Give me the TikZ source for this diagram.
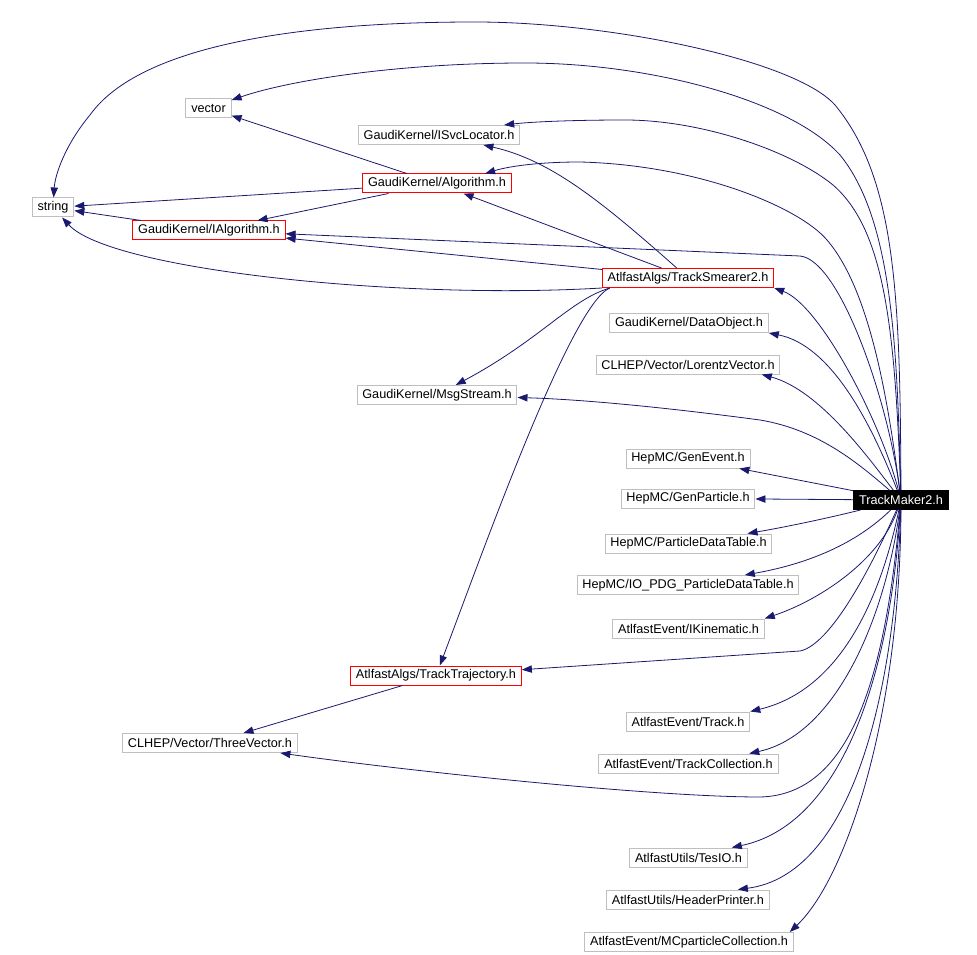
\documentclass[tikz,border=0pt]{standalone}
\usepackage{fontspec}
\setmainfont{Liberation Sans}
\usetikzlibrary{arrows.meta}
\definecolor{edgeblue}{RGB}{25,25,112}
\definecolor{boxgray}{RGB}{191,191,191}

\begin{document}
\begin{tikzpicture}[x=0.75pt, y=-0.75pt,
    font=\fontsize{9.5}{11}\selectfont,
    hdr/.style={draw=boxgray, line width=0.75pt, rectangle, minimum height=14.25pt, inner xsep=4pt, inner ysep=0pt},
    hdrred/.style={hdr, draw=red},
    root/.style={hdr, draw=black, fill=black, text=white},
    dep/.style={draw=edgeblue, line width=0.6pt, -{Triangle[length=7.5pt, width=5.5pt]}}]
    \useasboundingbox (0, 0) rectangle (977, 955);

    \node (string) [hdr] at (53, 207.5) {string};
    \node (vector) [hdr] at (208.5, 108) {vector};
    \node (isvc) [hdr] at (439, 135) {GaudiKernel/ISvcLocator.h};
    \node (alg) [hdrred] at (437, 183.5) {GaudiKernel/Algorithm.h};
    \node (ialg) [hdrred] at (209, 230.5) {GaudiKernel/IAlgorithm.h};
    \node (smear) [hdrred] at (688, 278) {AtlfastAlgs/TrackSmearer2.h};
    \node (dataobj) [hdr] at (689, 323) {GaudiKernel/DataObject.h};
    \node (lorentz) [hdr] at (688, 364.5) {CLHEP/Vector/LorentzVector.h};
    \node (msg) [hdr] at (437, 395) {GaudiKernel/MsgStream.h};
    \node (genevent) [hdr] at (688, 458.5) {HepMC/GenEvent.h};
    \node (genpart) [hdr] at (688, 498.5) {HepMC/GenParticle.h};
    \node (tm) [root] at (901, 500) {TrackMaker2.h};
    \node (pdt) [hdr] at (688.5, 543.5) {HepMC/ParticleDataTable.h};
    \node (iopdg) [hdr] at (688, 585) {HepMC/IO\_PDG\_ParticleDataTable.h};
    \node (ikin) [hdr] at (688.5, 628.5) {AtlfastEvent/IKinematic.h};
    \node (traj) [hdrred] at (436, 675.5) {AtlfastAlgs/TrackTrajectory.h};
    \node (threevec) [hdr] at (210, 743) {CLHEP/Vector/ThreeVector.h};
    \node (track) [hdr] at (688, 721.5) {AtlfastEvent/Track.h};
    \node (trackcoll) [hdr] at (688.5, 763.5) {AtlfastEvent/TrackCollection.h};
    \node (tesio) [hdr] at (688.5, 857.5) {AtlfastUtils/TesIO.h};
    \node (hprint) [hdr] at (688, 899.5) {AtlfastUtils/HeaderPrinter.h};
    \node (mcpc) [hdr] at (689, 942) {AtlfastEvent/MCparticleCollection.h};

    \draw[dep] (tm) .. controls (900, 300) and (897, 180) .. (835, 105)
        .. controls (795, 60) and (610, 22) .. (475, 22)
        .. controls (300, 22) and (140, 45) .. (90, 115)
        .. controls (65, 145) and (55, 175) .. (string);
    \draw[dep] (tm) .. controls (897, 350) and (893, 220) .. (840, 155)
        .. controls (790, 100) and (650, 63) .. (525, 63)
        .. controls (400, 63) and (290, 80) .. (vector);
    \draw[dep] (tm) .. controls (895, 330) and (885, 230) .. (833, 185)
        .. controls (790, 150) and (700, 120) .. (625, 120)
        .. controls (570, 120) and (530, 122) .. ([xshift=-12pt]isvc.north east);
    \draw[dep] (tm) .. controls (888, 400) and (870, 290) .. (827, 240)
        .. controls (800, 208) and (700, 165) .. (580, 162)
        .. controls (540, 162) and (510, 166) .. ([xshift=-20pt]alg.north east);
    \draw[dep] (tm) .. controls (888, 400) and (840, 260) .. (800, 256) -- (ialg);
    \draw[dep] (tm) .. controls (880, 420) and (820, 305) .. (smear.south east);
    \draw[dep] (tm) .. controls (870, 420) and (830, 345) .. (dataobj.south east);
    \draw[dep] (tm) .. controls (870, 460) and (820, 390) .. ([xshift=-14pt]lorentz.south east);
    \draw[dep] (tm) .. controls (860, 465) and (820, 430) .. (760, 420)
        .. controls (700, 412) and (600, 400) .. (msg);
    \draw[dep] (tm) -- (genevent);
    \draw[dep] (tm) -- (genpart);
    \draw[dep] (tm) .. controls (820, 520) and (780, 528) .. (pdt);
    \draw[dep] (tm) .. controls (870, 530) and (830, 560) .. (iopdg);
    \draw[dep] (tm) .. controls (880, 560) and (820, 600) .. (ikin.north east);
    \draw[dep] (tm) .. controls (870, 570) and (830, 645) .. (800, 651) -- (traj);
    \draw[dep] (tm) .. controls (885, 680) and (850, 795) .. (760, 797)
        .. controls (650, 797) and (400, 770) .. (threevec);
    \draw[dep] (tm) .. controls (880, 600) and (840, 690) .. (track.north east);
    \draw[dep] (tm) .. controls (885, 620) and (835, 735) .. ([xshift=-22pt]trackcoll.north east);
    \draw[dep] (tm) .. controls (890, 680) and (840, 825) .. ([xshift=-12pt]tesio.north east);
    \draw[dep] (tm) .. controls (895, 700) and (850, 875) .. ([xshift=-24pt]hprint.north east);
    \draw[dep] (tm) .. controls (900, 720) and (845, 880) .. ([xshift=-3pt]mcpc.north east);

    \draw[dep] (alg) -- (vector);
    \draw[dep] (alg) -- (string);
    \draw[dep] (alg) -- (ialg);
    \draw[dep] (ialg) -- (string);

    \draw[dep] (smear.south west) .. controls (400, 300) and (110, 270) .. (string);
    \draw[dep] (smear) -- (ialg);
    \draw[dep] (smear) -- (alg);
    \draw[dep] (smear) .. controls (600, 200) and (550, 160) .. (isvc);
    \draw[dep] ([xshift=6pt]smear.south west) .. controls (570, 300) and (540, 340) .. (msg);
    \draw[dep] ([xshift=6pt]smear.south west) .. controls (570, 305) and (480, 560) .. (traj);
    \draw[dep] (traj) -- (threevec);
\end{tikzpicture}
\end{document}
